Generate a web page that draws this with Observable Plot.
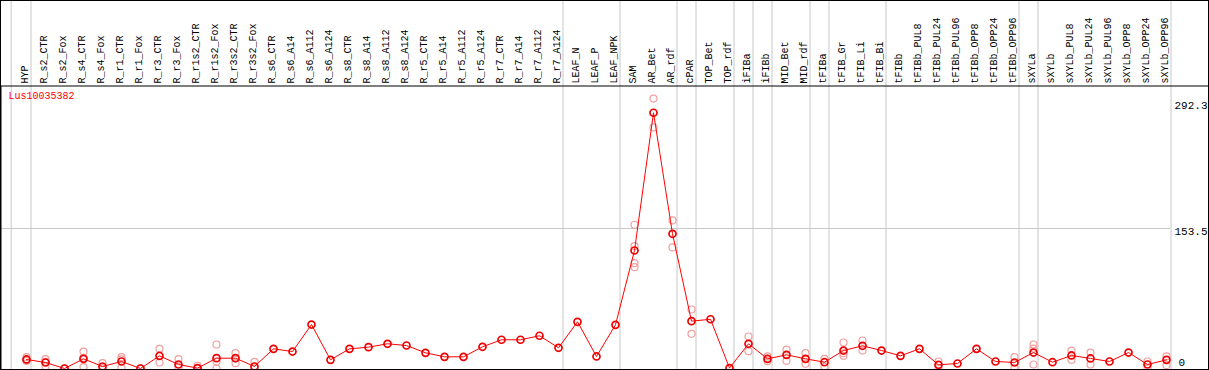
<!DOCTYPE html>
<html><head><meta charset="utf-8">
<script src="https://cdn.jsdelivr.net/npm/d3@7"></script>
<script src="https://cdn.jsdelivr.net/npm/@observablehq/plot@0.6"></script>
<style>
html,body{margin:0;padding:0;background:#fff}
#chart svg{display:block}
</style>
</head><body><div id="chart"></div>
<script>
const geneId = "Lus10035382";

const categories = [
  "HYP","R_s2_CTR","R_s2_Fox","R_s4_CTR","R_s4_Fox","R_r1_CTR","R_r1_Fox","R_r3_CTR","R_r3_Fox",
  "R_r1s2_CTR","R_r1s2_Fox","R_r3s2_CTR","R_r3s2_Fox","R_s6_CTR","R_s6_A14","R_s6_A112","R_s6_A124",
  "R_s8_CTR","R_s8_A14","R_s8_A112","R_s8_A124","R_r5_CTR","R_r5_A14","R_r5_A112","R_r5_A124",
  "R_r7_CTR","R_r7_A14","R_r7_A112","R_r7_A124","LEAF_N","LEAF_P","LEAF_NPK","SAM","AR_Bet","AR_rdf",
  "cPAR","TOP_Bet","TOP_rdf","iFIBa","iFIBb","MID_Bet","MID_rdf","tFIBa","tFIB_Gr","tFIB_Li","tFIB_Bi",
  "tFIBb","tFIBb_PUL8","tFIBb_PUL24","tFIBb_PUL96","tFIBb_OPP8","tFIBb_OPP24","tFIBb_OPP96",
  "sXYLa","sXYLb","sXYLb_PUL8","sXYLb_PUL24","sXYLb_PUL96","sXYLb_OPP8","sXYLb_OPP24","sXYLb_OPP96"
];

const means = [
  9.9, 6.6, 0, 10.6, 2.2, 7.7, 0, 13.9, 4.4,
  0.4, 11.3, 11.3, 2.2, 21.6, 18.6, 48.2, 9.5,
  21.6, 23.4, 27.1, 25.2, 17.2, 12.8, 12.8, 23.8,
  31.5, 31.5, 35.9, 22.7, 51.2, 13.2, 47.9, 129.4, 280.4, 147.7,
  51.9, 54.0, 0.5, 27.1, 10.6, 15.0, 10.6, 6.9, 19.7, 24.9, 19.7,
  13.9, 21.6, 4.0, 5.5, 21.6, 7.7, 6.6,
  17.5, 6.9, 14.3, 11.0, 7.7, 17.5, 4.4, 9.5
];

const replicates = [
  [12.4, 9.0, 8.3], [10.2, 2.2, 7.4], [0, 0], [18.6, 1.4, 11.8], [5.8, 0.5], [12.4, 0.8, 9.9], [0, 0], [21.6, 6.6], [10.2, 1.4],
  [3.0, 0], [26.3, 0, 7.6], [16.8, 5.8, 11.3], [7.3, 0], [], [], [], [],
  [], [], [], [], [], [], [], [],
  [], [], [], [], [], [], [], [157.6, 134.1, 115.5, 111.1], [296.0, 264.3], [162.3, 132.7],
  [64.7, 38.0], [], [], [35.1, 19.0], [13.2, 8.0], [20.8, 8.4], [16.8, 5.2], [10.6, 1.9], [28.5, 13.9, 16.7], [30.7, 19.7], [],
  [], [], [7.7, 0.3], [], [], [], [12.4, 0.8],
  [26.3, 4.4, 21.8], [], [19.7, 9.5], [17.5, 4.4], [], [], [7.7, 0], [13.2, 3.6]
];

const groupEnds = ["HYP","R_r7_A124","LEAF_NPK","AR_rdf","cPAR","TOP_rdf","iFIBa","iFIBb",
  "MID_rdf","tFIBa","tFIB_Bi","tFIBb_OPP96","sXYLa","sXYLb_OPP96"];

const yTicks = [153.5, 292.3];
const yZeroTick = [0];
const yGrid = [153.5];

const meanRows = categories.map((c, i) => ({c, v: means[i]}));
const repRows = categories.flatMap((c, i) => replicates[i].map(v => ({c, v})));

const grey = "#c8c8c8";
const mono = "Liberation Mono, DejaVu Sans Mono, monospace";
const plot = Plot.plot({
  width: 1209, height: 370,
  marginTop: 85, marginBottom: 0, marginLeft: 0, marginRight: 0,
  x: {type: "point", domain: categories, range: [26, 1166], padding: 0, axis: null},
  y: {domain: [0, 292.3], range: [368, 101.4], axis: null},
  marks: [
    Plot.ruleY(yGrid, {stroke: grey, insetRight: 39}),
    Plot.ruleX(groupEnds, {dx: 4.5, stroke: grey, insetTop: -85}),
    Plot.ruleX([categories[0]], {dx: -15.3, stroke: grey, insetTop: -85}),
    Plot.frame({stroke: "#000", inset: 0.5}),
    Plot.text(categories, {x: d => d, text: d => d, frameAnchor: "top", dy: -2, dx: -1.5, rotate: -90,
      textAnchor: "start", lineAnchor: "middle", fill: "#000", fontSize: 10, fontFamily: mono}),
    Plot.text([geneId], {text: d => d, frameAnchor: "top-left", dx: 8, dy: 6, textAnchor: "start",
      lineAnchor: "top", fill: "#ff0000", fontSize: 10, fontFamily: mono}),
    Plot.text(yTicks, {y: d => d, text: d => String(d), frameAnchor: "right", dx: -35, dy: -1,
      textAnchor: "start", lineAnchor: "top", fill: "#000", fontSize: 11, fontFamily: mono}),
    Plot.text(yZeroTick, {y: d => d, text: d => String(d), frameAnchor: "right", dx: -31, dy: -3,
      textAnchor: "start", lineAnchor: "bottom", fill: "#000", fontSize: 11, fontFamily: mono}),
    Plot.dot(repRows, {x: "c", y: "v", r: 3.5, stroke: "#f0a0a0", strokeWidth: 1.2, fill: "none"}),
    Plot.line(meanRows, {x: "c", y: "v", stroke: "#ff0000", strokeWidth: 1}),
    Plot.dot(meanRows, {x: "c", y: "v", r: 3.5, stroke: "#ee0000", strokeWidth: 1.7, fill: "none"})
  ]
});
plot.style.background = "#fff";
plot.style.overflow = "hidden";
plot.style.outline = "1px solid #000";
plot.style.outlineOffset = "-1px";
document.getElementById("chart").appendChild(plot);
</script>
</body></html>
